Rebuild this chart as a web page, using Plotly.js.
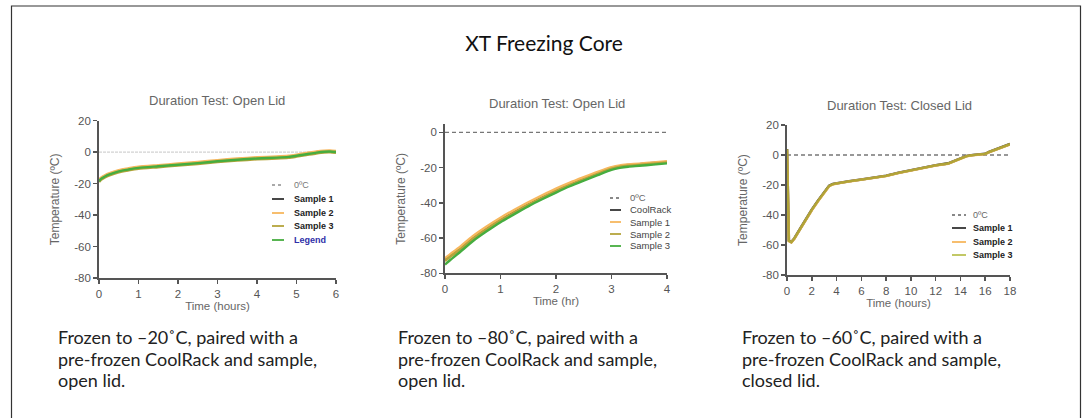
<!DOCTYPE html>
<html>
<head>
<meta charset="utf-8">
<script src="https://cdn.plot.ly/plotly-3.0.1.min.js"></script>
<style>html,body{margin:0;padding:0;background:#fff;}#chart{width:1088px;height:418px;}</style>
</head>
<body>
<div id="chart"></div>
<script>
// ---------------- DATA ----------------
// Panel 1: Frozen to -20°C, open lid
const c1Time    = [0, 0.05, 0.15, 0.25, 0.5, 0.75, 1, 1.5, 2, 2.5, 3, 3.5, 4, 4.5, 4.8, 5, 5.25, 5.5, 5.7, 5.85, 6];
const c1Sample1 = [-18.3, -16.8, -15.3, -14.1, -12.0, -10.8, -9.8, -8.8, -7.8, -6.8, -5.6, -4.6, -3.8, -3.3, -2.8, -2.1, -1.1, -0.1, 0.5, 0.6, 0.3];
const c1Sample2 = [-17.8, -16.3, -14.8, -13.6, -11.5, -10.3, -9.3, -8.3, -7.3, -6.3, -5.1, -4.1, -3.3, -2.8, -2.3, -1.6, -0.6, 0.4, 0.9, 1.0, 0.7];
const c1Sample3 = [-19.0, -17.5, -16.0, -14.8, -12.7, -11.5, -10.5, -9.5, -8.5, -7.5, -6.3, -5.3, -4.5, -4.0, -3.5, -2.8, -1.8, -0.8, -0.2, -0.1, -0.4];
const c1Legend  = [-18.5, -17.0, -15.5, -14.3, -12.2, -11.0, -10.0, -9.0, -8.0, -7.0, -5.8, -4.8, -4.0, -3.5, -3.0, -2.3, -1.3, -0.3, 0.3, 0.4, 0.1];
const c1Zero    = [0, 0];
const c1ZeroX   = [0, 6];
const c1XTicks  = [0, 1, 2, 3, 4, 5, 6];
const c1YTicks  = [20, 0, -20, -40, -60, -80];
const c1Names   = ['0ºC', 'Sample 1', 'Sample 2', 'Sample 3', 'Legend'];

// Panel 2: Frozen to -80°C, open lid
const c2Time     = [0, 0.1, 0.25, 0.5, 0.75, 1, 1.25, 1.5, 1.75, 2, 2.25, 2.5, 2.75, 3, 3.15, 3.3, 3.5, 3.75, 4];
const c2CoolRack = [-72.5, -70.0, -66.5, -60.0, -54.5, -49.5, -45.0, -40.8, -36.8, -33.0, -29.5, -26.3, -23.2, -20.3, -19.2, -18.6, -18.1, -17.4, -16.8];
const c2Sample1  = [-71.5, -69.0, -65.5, -59.0, -53.5, -48.5, -44.0, -39.8, -35.8, -32.0, -28.6, -25.5, -22.5, -19.8, -18.8, -18.3, -17.8, -17.1, -16.4];
const c2Sample2  = [-73.0, -70.5, -67.0, -60.5, -55.0, -50.0, -45.5, -41.2, -37.2, -33.4, -29.9, -26.7, -23.6, -20.7, -19.6, -19.0, -18.5, -17.8, -17.1];
const c2Sample3  = [-75.0, -72.3, -68.5, -61.8, -56.2, -51.0, -46.4, -42.0, -38.0, -34.2, -30.6, -27.4, -24.3, -21.3, -20.2, -19.5, -19.0, -18.3, -17.6];
const c2Zero     = [0, 0];
const c2ZeroX    = [0, 4];
const c2XTicks   = [0, 1, 2, 3, 4];
const c2YTicks   = [0, -20, -40, -60, -80];
const c2Names    = ['0ºC', 'CoolRack', 'Sample 1', 'Sample 2', 'Sample 3'];

// Panel 3: Frozen to -60°C, closed lid
const c3Time    = [0, 0.08, 0.15, 0.35, 0.6, 1, 1.5, 2, 2.5, 3, 3.4, 3.7, 4, 5, 6, 7, 8, 9, 10, 11, 12, 13, 13.5, 14, 14.5, 15, 16, 16.3, 17, 18];
const c3Sample1 = [4.0, -30.0, -57.0, -58.0, -55.5, -50.0, -43.0, -36.5, -30.5, -25.0, -20.5, -19.3, -18.8, -17.5, -16.3, -15.2, -13.8, -11.8, -10.0, -8.3, -6.8, -5.6, -4.0, -2.3, -0.6, 0.0, 0.8, 2.0, 4.3, 7.3];
const c3Sample2 = [3.5, -30.5, -57.5, -58.3, -55.8, -50.3, -43.3, -36.8, -30.8, -25.3, -20.8, -19.6, -19.0, -17.7, -16.5, -15.4, -14.0, -12.0, -10.2, -8.5, -7.0, -5.8, -4.2, -2.5, -0.8, -0.2, 0.6, 1.8, 4.1, 7.1];
const c3Sample3 = [3.8, -30.2, -57.2, -58.1, -55.6, -50.1, -43.1, -36.6, -30.6, -25.1, -20.6, -19.4, -18.9, -17.6, -16.4, -15.3, -13.9, -11.9, -10.1, -8.4, -6.9, -5.7, -4.1, -2.4, -0.7, -0.1, 0.7, 1.9, 4.2, 7.2];
const c3Zero    = [0, 0];
const c3ZeroX   = [0, 18];
const c3XTicks  = [0, 2, 4, 6, 8, 10, 12, 14, 16, 18];
const c3YTicks  = [20, 0, -20, -40, -60, -80];
const c3Names   = ['0ºC', 'Sample 1', 'Sample 2', 'Sample 3'];

// Text
const mainTitle = 'XT Freezing Core';
const panelTitles = ['Duration Test: Open Lid', 'Duration Test: Open Lid', 'Duration Test: Closed Lid'];
const xTitles = ['Time (hours)', 'Time (hr)', 'Time (hours)'];
const yTitle = 'Temperature (ºC)';
const captions = [
  ['Frozen to –20˚C, paired with a', 'pre-frozen CoolRack and sample,', 'open lid.'],
  ['Frozen to –80˚C, paired with a', 'pre-frozen CoolRack and sample,', 'open lid.'],
  ['Frozen to –60˚C, paired with a', 'pre-frozen CoolRack and sample,', 'closed lid.']
];

// ---------------- STYLE / LAYOUT ----------------
const W = 1088, H = 418;
const px = v => v / W;
const py = v => 1 - v / H;

const BLACK = '#333333', ORANGE = '#f6b75e', OLIVE = '#b5a43c', GREEN = '#46ad3f', YGREEN = '#bcc255';
const ARIAL = 'Liberation Sans, Arial, Helvetica, sans-serif';
const LW = 2.6;

function line(x, y, color, xa, ya, name, dash, width, opacity) {
  return {x: x, y: y, type: 'scatter', mode: 'lines', name: name, xaxis: xa, yaxis: ya,
    line: {color: color, width: width || LW, dash: dash || 'solid', shape: 'spline', smoothing: 0.6},
    opacity: opacity || 1, showlegend: false, hoverinfo: 'x+y+name'};
}

const traces = [
  line(c1ZeroX, c1Zero, '#d2d2d2', 'x', 'y', c1Names[0], '3px,1px', 1.2),
  line(c1Time, c1Sample1, BLACK, 'x', 'y', c1Names[1]),
  line(c1Time, c1Sample2, ORANGE, 'x', 'y', c1Names[2]),
  line(c1Time, c1Sample3, OLIVE, 'x', 'y', c1Names[3]),
  line(c1Time, c1Legend, GREEN, 'x', 'y', c1Names[4], 'solid', 2.4),

  line(c2ZeroX, c2Zero, '#777', 'x2', 'y2', c2Names[0], '4px,3px', 1.3),
  line(c2Time, c2CoolRack, BLACK, 'x2', 'y2', c2Names[1]),
  line(c2Time, c2Sample1, ORANGE, 'x2', 'y2', c2Names[2]),
  line(c2Time, c2Sample2, OLIVE, 'x2', 'y2', c2Names[3]),
  line(c2Time, c2Sample3, GREEN, 'x2', 'y2', c2Names[4], 'solid', 2.4),

  line(c3ZeroX, c3Zero, '#777', 'x3', 'y3', c3Names[0], '4px,3px', 1.3),
  line(c3Time, c3Sample1, BLACK, 'x3', 'y3', c3Names[1]),
  line(c3Time, c3Sample2, ORANGE, 'x3', 'y3', c3Names[2]),
  line(c3Time, c3Sample3, '#a9a233', 'x3', 'y3', c3Names[3], 'solid', 2.4, 0.9)
];
// straight segments for panel 3 (sharp corners)
traces.slice(10).forEach(t => { t.line.shape = 'linear'; });

const tickText = ticks => ticks.map(v => String(v)); // plain hyphen minus as in original

function xax(domain, range, ticks, title) {
  return {domain: domain, range: range, tickvals: ticks, ticktext: tickText(ticks), showline: true, linecolor: '#555', linewidth: 1.8,
    ticks: 'outside', ticklen: 4, tickwidth: 1.5, tickcolor: '#555', showgrid: false, zeroline: false,
    tickfont: {family: ARIAL, size: 11.5, color: '#555'}, fixedrange: true,
    title: {text: title, font: {family: ARIAL, size: 11.5, color: '#666'}, standoff: 1}};
}
function yax(domain, range, ticks) {
  return {domain: domain, range: range, tickvals: ticks, ticktext: tickText(ticks), showline: true, linecolor: '#555', linewidth: 1.8,
    ticks: 'outside', ticklen: 4, tickwidth: 1.5, tickcolor: '#555', showgrid: false, zeroline: false,
    tickfont: {family: ARIAL, size: 11.5, color: '#555'}, fixedrange: true,
    title: {text: yTitle, font: {family: ARIAL, size: 12, color: '#666'}, standoff: 12}};
}

const shapes = [
  {type: 'rect', xref: 'paper', yref: 'paper', x0: px(11.5), x1: px(1080.5), y0: py(425), y1: py(6),
   line: {color: '#333', width: 1.2}, fillcolor: 'rgba(0,0,0,0)', layer: 'below'}
];
const annotations = [];

// Panel titles
[[217, 100], [557, 104], [899, 105]].forEach((p, i) => {
  annotations.push({text: panelTitles[i], xref: 'paper', yref: 'paper', x: px(p[0]), y: py(p[1]),
    xanchor: 'center', yanchor: 'middle', showarrow: false, font: {family: ARIAL, size: 13, color: '#666'}});
});

// Legends (drawn as small key boxes)
function legend(names, colors, dashes, textColors, bold, lx0, lx1, tx, rows, fs) {
  names.forEach((n, i) => {
    shapes.push({type: 'line', xref: 'paper', yref: 'paper', x0: px(lx0), x1: px(lx1), y0: py(rows[i]), y1: py(rows[i]),
      line: {color: colors[i], width: 1.8, dash: dashes[i]}});
    const txt = (bold[i] ? '<b>' + n + '</b>' : n);
    annotations.push({text: txt, xref: 'paper', yref: 'paper', x: px(tx), y: py(rows[i]), xanchor: 'left', yanchor: 'middle',
      showarrow: false, font: {family: ARIAL, size: fs, color: textColors[i]}});
  });
}
legend(c1Names, ['#aaa', BLACK, ORANGE, OLIVE, GREEN], ['dot', 'solid', 'solid', 'solid', 'solid'],
  ['#777', '#222', '#222', '#222', '#2f2fa8'], [false, true, true, true, true], 272, 284, 292, [185, 199, 213, 226, 240], 9);
legend(c2Names, ['#888', BLACK, ORANGE, OLIVE, GREEN], ['dot', 'solid', 'solid', 'solid', 'solid'],
  ['#666', '#444', '#444', '#444', '#444'], [false, false, false, false, false], 610, 621, 628, [198, 210, 222, 234, 246], 9.5);
legend(c3Names, ['#888', BLACK, ORANGE, YGREEN], ['dot', 'solid', 'solid', 'solid'],
  ['#666', '#222', '#222', '#222'], [false, true, true, true], 952, 966, 971, [215, 228, 242, 255], 9);

// Captions (one annotation per line for exact line spacing)
[56, 396, 740].forEach((x, i) => {
  captions[i].forEach((ln, j) => {
    annotations.push({text: ln, xref: 'paper', yref: 'paper', x: px(x), y: py(337 + j * 21.5), xanchor: 'left', yanchor: 'middle',
      align: 'left', showarrow: false, font: {family: 'Lato, Open Sans, sans-serif', size: 18, color: '#222'}});
  });
});

const layout = {
  width: W, height: H, margin: {l: 0, r: 0, t: 0, b: 0}, paper_bgcolor: '#fff', plot_bgcolor: 'rgba(0,0,0,0)',
  showlegend: false,
  title: {text: mainTitle, x: 0.5, xanchor: 'center', y: py(44), yanchor: 'middle',
    font: {family: 'Lato, Open Sans, sans-serif', size: 21, color: '#111'}},
  xaxis:  xax([px(99), px(336)], [0, 6], c1XTicks, xTitles[0]),
  yaxis:  yax([py(278), py(120.7)], [-80, 20], c1YTicks),
  xaxis2: xax([px(445), px(667)], [0, 4], c2XTicks, xTitles[1]),
  yaxis2: yax([py(273.3), py(124.4)], [-80, 4.5], c2YTicks),
  xaxis3: xax([px(787), px(1010)], [0, 18], c3XTicks, xTitles[2]),
  yaxis3: yax([py(275), py(125)], [-80, 20], c3YTicks),
  shapes: shapes,
  annotations: annotations
};
layout.xaxis.anchor = 'y'; layout.yaxis.anchor = 'x';
layout.xaxis2.anchor = 'y2'; layout.yaxis2.anchor = 'x2';
layout.xaxis3.anchor = 'y3'; layout.yaxis3.anchor = 'x3';

Plotly.newPlot('chart', traces, layout, {staticPlot: true, displayModeBar: false});
</script>
</body>
</html>
